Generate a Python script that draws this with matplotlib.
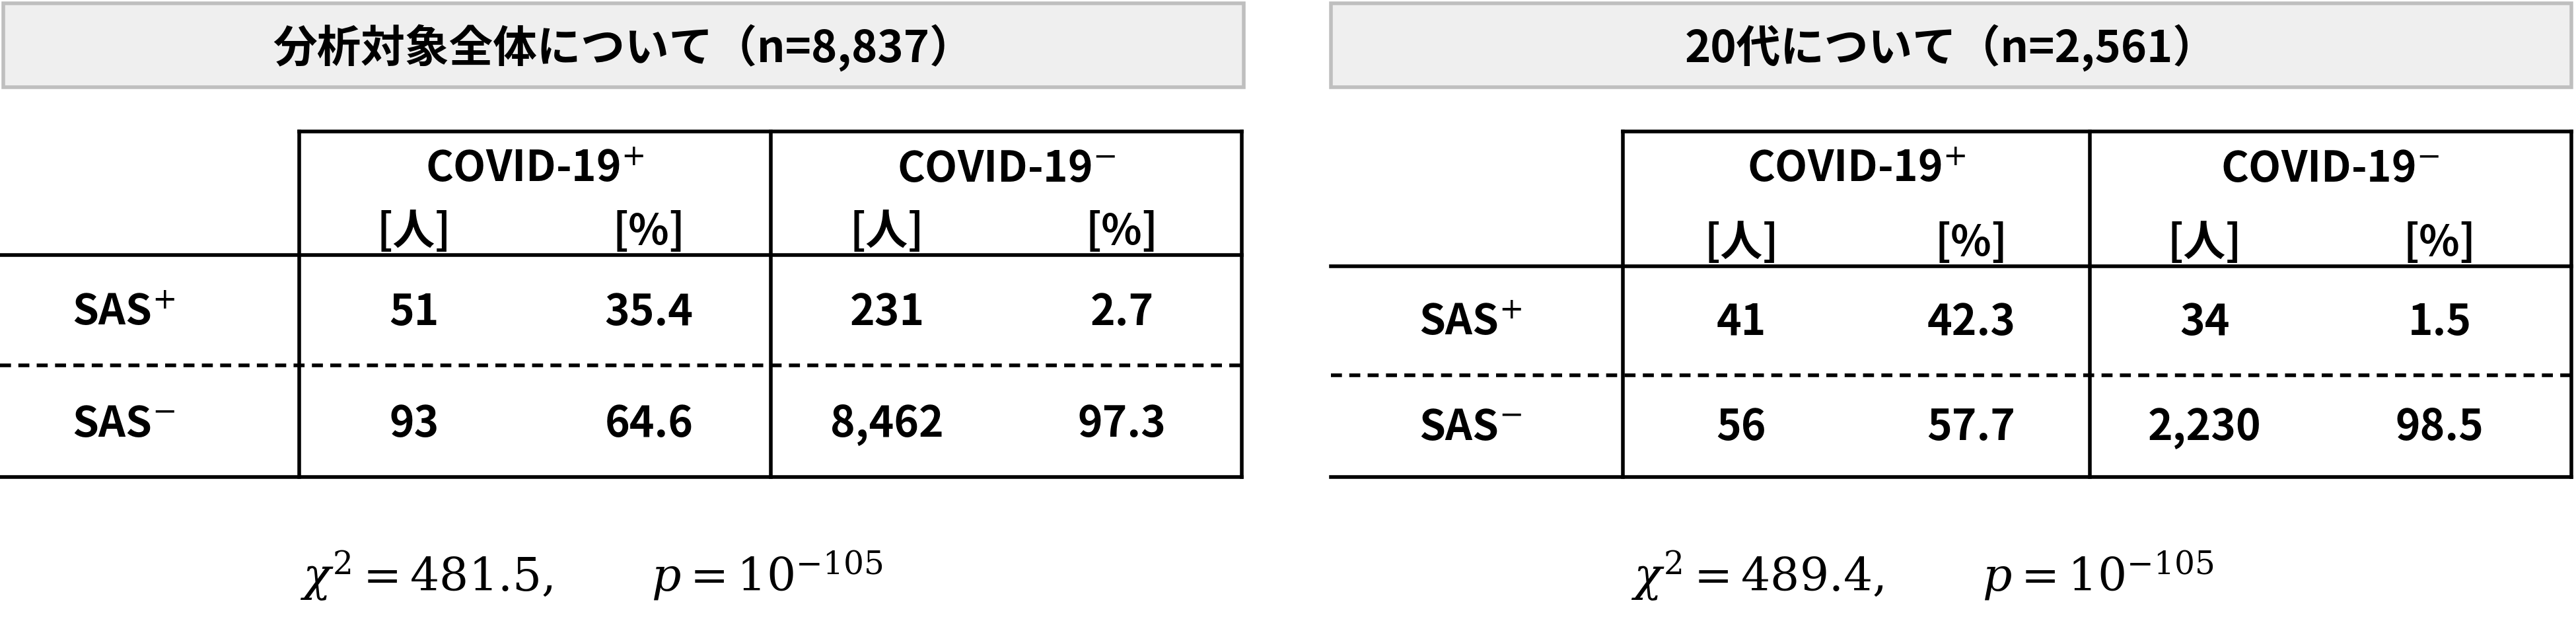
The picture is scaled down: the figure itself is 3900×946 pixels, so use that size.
import matplotlib
matplotlib.use("Agg")
import matplotlib.pyplot as plt

plt.rcParams['font.family'] = ['Noto Sans CJK JP', 'DejaVu Sans']
plt.rcParams['mathtext.fontset'] = 'dejavuserif'

titles = ["分析対象全体について（n=8,837）", "20代について（n=2,561）"]
col_groups = ["COVID-19$^{+}$", "COVID-19$^{-}$"]
units = ["[人]", "[%]"]
row_labels = ["SAS$^{+}$", "SAS$^{-}$"]
counts_all = [["51", "231"], ["93", "8,462"]]
pct_all = [["35.4", "2.7"], ["64.6", "97.3"]]
counts_20 = [["41", "34"], ["56", "2,230"]]
pct_20 = [["42.3", "1.5"], ["57.7", "98.5"]]
chi2 = ["481.5", "489.4"]
pexp = ["-105", "-105"]

fig = plt.figure(figsize=(39, 9.46), dpi=100)
ax = fig.add_axes([0, 0, 1, 1])
ax.set_xlim(0, 1568); ax.set_ylim(380, 0); ax.axis('off')

panels = [
    dict(box=(2, 757), left=0, v=(182, 469, 756), hb=155, dash=222, cols=(252, 395, 540, 683),
         rows=(190, 258), lab=75, chi=360, counts=counts_all, pct=pct_all),
    dict(box=(810, 1565), left=810, v=(988, 1272, 1565), hb=162, dash=228, cols=(1060, 1200, 1342, 1485),
         rows=(196, 260), lab=895, chi=1170, counts=counts_20, pct=pct_20),
]
FS = 46
lw = 4
for i, p in enumerate(panels):
    x0, x1 = p['box']
    ax.add_patch(plt.Rectangle((x0, 2), x1 - x0, 51, facecolor='#efefef', edgecolor='#bfbfbf', lw=4))
    ax.text((x0 + x1) / 2, 29, titles[i], ha='center', va='center', fontsize=48, fontweight='bold')
    va, vb, vc = p['v']
    top, bot = 80, 290
    ax.plot([va, vc], [top, top], color='k', lw=lw)
    ax.plot([p['left'], vc], [p['hb'], p['hb']], color='k', lw=lw)
    ax.plot([p['left'], vc], [bot, bot], color='k', lw=lw)
    ax.plot([p['left'], vc], [p['dash'], p['dash']], color='k', lw=lw, ls=(0, (3, 2)))
    for xv in p['v']:
        ax.plot([xv, xv], [top, bot], color='k', lw=lw)
    for g in range(2):
        ax.text((p['v'][g] + p['v'][g + 1]) / 2, 103, col_groups[g], ha='center', va='center',
                fontsize=FS, fontweight='bold')
        for u in range(2):
            ax.text(p['cols'][g * 2 + u], p['hb'] - 14, units[u], ha='center', va='center',
                    fontsize=FS, fontweight='bold')
    for r in range(2):
        y = p['rows'][r]
        ax.text(p['lab'], y, row_labels[r], ha='center', va='center', fontsize=FS, fontweight='bold')
        for g in range(2):
            ax.text(p['cols'][g * 2], y, p['counts'][r][g], ha='center', va='center', fontsize=FS, fontweight='bold')
            ax.text(p['cols'][g * 2 + 1], y, p['pct'][r][g], ha='center', va='center', fontsize=FS, fontweight='bold')
    ax.text(p['chi'], 350, r"$\chi^2 = %s,\qquad p = 10^{%s}$" % (chi2[i], pexp[i]),
            ha='center', va='center', fontsize=50)

fig.savefig("out.png", dpi=100)
